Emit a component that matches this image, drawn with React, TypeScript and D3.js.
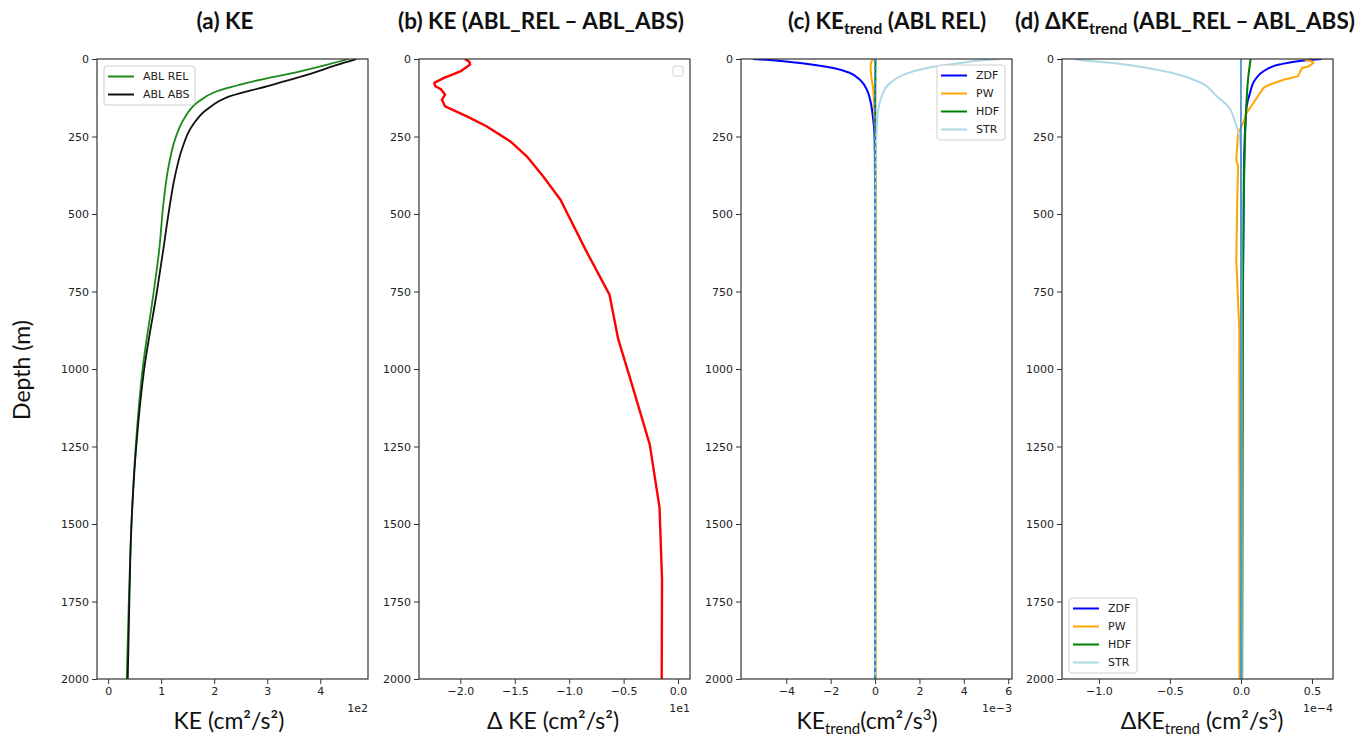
import * as React from 'react';
import * as d3 from 'd3';

// [depth (m), value]
type Pt = [number, number];

const depthTicks = [0, 250, 500, 750, 1000, 1250, 1500, 1750, 2000];

// (a) KE, cm2/s2
const keRel: Pt[] = [
  [0, 453], [20, 410], [40, 362], [72, 274], [104, 205], [142, 167], [196, 142], [260, 126],
  [346, 114], [454, 105], [620, 96], [750, 86], [1000, 65], [1250, 52], [1500, 44], [1750, 39], [2000, 35],
];
const keAbs: Pt[] = [
  [0, 468], [20, 430], [45, 387], [88, 299], [120, 230], [163, 186], [217, 158], [292, 139],
  [378, 126], [497, 114], [615, 104], [750, 92], [1000, 68], [1250, 53], [1500, 44], [1750, 40], [2000, 37],
];

// (b) KE difference, cm2/s2
const keDiff: Pt[] = [
  [0, -19.6], [8, -19.2], [18, -19.1], [40, -20.0], [61, -21.5], [77, -22.4], [88, -22.3], [97, -21.8],
  [115, -21.4], [131, -21.7], [153, -21.4], [185, -19.4], [217, -17.6], [266, -15.4], [314, -13.9],
  [378, -12.4], [454, -10.8], [615, -8.5], [760, -6.3], [903, -5.5], [1066, -4.1], [1243, -2.6],
  [1447, -1.7], [1679, -1.47], [2000, -1.5],
];

// (c) KE trends ABL REL, in 1e-3 cm2/s3
const zdfRel: Pt[] = [
  [0, -5.5], [4, -4.6], [13, -3.38], [29, -1.88], [45, -1.13], [67, -0.68], [99, -0.37], [142, -0.19],
  [185, -0.1], [239, -0.03], [300, -0.01], [500, 0], [2000, 0],
];
const pwRel: Pt[] = [
  [0, -0.1], [20, -0.2], [50, -0.18], [100, -0.08], [200, -0.02], [300, 0.03], [1000, 0.03], [2000, 0.03],
];
const hdfRel: Pt[] = [[0, 0.02], [100, 0.01], [2000, 0]];
const strRel: Pt[] = [
  [0, 5.6], [4, 4.8], [13, 3.83], [29, 2.33], [51, 1.28], [77, 0.68], [120, 0.3], [163, 0.15],
  [217, 0.08], [300, 0.03], [500, 0.01], [2000, 0.01],
];

// (d) KE trend differences, in 1e-4 cm2/s3
const zdfDiff: Pt[] = [
  [0, 0.568], [5, 0.44], [18, 0.27], [40, 0.157], [67, 0.099], [110, 0.063], [153, 0.04], [217, 0.03],
  [400, 0.02], [1000, 0.01], [2000, 0.008],
];
const pwDiff: Pt[] = [
  [0, 0.44], [8, 0.5], [13, 0.51], [24, 0.475], [29, 0.43], [56, 0.4], [67, 0.3], [83, 0.2], [94, 0.157],
  [110, 0.134], [142, 0.087], [174, 0.04], [201, 0.02], [239, -0.02], [303, -0.03], [325, -0.033],
  [346, -0.02], [454, -0.026], [647, -0.033], [870, -0.012], [2000, -0.01],
];
const hdfDiff: Pt[] = [[0, 0.068], [56, 0.052], [131, 0.04], [239, 0.03], [454, 0.02], [668, 0.014], [2000, 0.008]];
const strDiff: Pt[] = [
  [0, -1.17], [4, -1.12], [13, -0.9], [29, -0.66], [45, -0.48], [77, -0.28], [120, -0.17], [153, -0.09],
  [206, -0.04], [260, -0.007], [350, 0.003], [2000, 0.005],
];
const zeroLine: Pt[] = [[0, 0], [2000, 0]];

type Series = { data: Pt[]; color: string; width: number; label?: string; dash?: string; linear?: boolean };
type Panel = {
  x0: number; x1: number; domain: [number, number]; ticks: number[]; unit: number; dec: number;
  series: Series[]; legend?: { x: number; y: number; w: number }; emptyLegend?: boolean;
};

const TOP = 59;
const BOTTOM = 679;
const TICK_FONT = 'DejaVu Sans, sans-serif';
const LABEL_FONT = 'Lato, "Open Sans", sans-serif';

const ZDF = { color: '#0000ff', width: 2, label: 'ZDF' };
const PW = { color: '#ffa500', width: 2, label: 'PW' };
const HDF = { color: '#008000', width: 2, label: 'HDF' };
const STR = { color: '#add8e6', width: 2, label: 'STR' };

const panels: Panel[] = [
  {
    x0: 97, x1: 368, domain: [-21, 490], ticks: [0, 100, 200, 300, 400], unit: 100, dec: 0,
    series: [
      { data: keRel, color: '#1a8a1a', width: 1.8, label: 'ABL REL' },
      { data: keAbs, color: '#111111', width: 1.8, label: 'ABL ABS' },
    ],
    legend: { x: 104, y: 66, w: 91 },
  },
  {
    x0: 419, x1: 690, domain: [-23.8, 1.1], ticks: [-20, -15, -10, -5, 0], unit: 10, dec: 1,
    series: [{ data: keDiff, color: '#ff0000', width: 2.4, linear: true }],
    emptyLegend: true,
  },
  {
    x0: 741, x1: 1012, domain: [-6.04, 6.17], ticks: [-4, -2, 0, 2, 4, 6], unit: 1, dec: 0,
    series: [
      { data: zdfRel, ...ZDF },
      { data: pwRel, ...PW },
      { data: hdfRel, ...HDF },
      { data: strRel, ...STR },
      { data: zeroLine, color: '#3a86c8', width: 2, dash: '4,3' },
    ],
    legend: { x: 937, y: 65, w: 68 },
  },
  {
    x0: 1062, x1: 1333, domain: [-1.26, 0.648], ticks: [-1, -0.5, 0, 0.5], unit: 1, dec: 1,
    series: [
      { data: zdfDiff, ...ZDF },
      { data: pwDiff, ...PW, linear: true },
      { data: hdfDiff, ...HDF },
      { data: strDiff, ...STR },
      { data: zeroLine, color: '#3a86c8', width: 1.6 },
    ],
    legend: { x: 1069, y: 598, w: 68 },
  },
];

function fmt(v: number, unit: number, dec: number) {
  const s = (Math.abs(v) < 1e-12 ? 0 : v / unit).toFixed(dec);
  return s.replace('-', '\u2212');
}

function Charts() {
  const ref = React.useRef<SVGGElement | null>(null);

  React.useEffect(() => {
    if (!ref.current) return;
    const root = d3.select(ref.current);
    root.selectAll('*').remove();

    const y = d3.scaleLinear().domain([0, 2000]).range([TOP, BOTTOM]);

    panels.forEach((p, i) => {
      const x = d3.scaleLinear().domain(p.domain).range([p.x0, p.x1]);
      const g = root.append('g');

      const clipId = `clip-${i}`;
      g.append('clipPath').attr('id', clipId)
        .append('rect').attr('x', p.x0).attr('y', TOP).attr('width', p.x1 - p.x0).attr('height', BOTTOM - TOP);

      const plot = g.append('g').attr('clip-path', `url(#${clipId})`);
      p.series.forEach(s => {
        const line = d3.line<Pt>()
          .x(d => x(d[1]))
          .y(d => y(d[0]))
          .curve(s.linear ? d3.curveLinear : d3.curveMonotoneY);
        plot.append('path')
          .attr('fill', 'none')
          .attr('stroke', s.color)
          .attr('stroke-width', s.width)
          .attr('stroke-linejoin', 'round')
          .attr('stroke-dasharray', s.dash ?? null)
          .attr('d', line(s.data) || '');
      });

      // frame
      g.append('rect')
        .attr('x', p.x0).attr('y', TOP).attr('width', p.x1 - p.x0).attr('height', BOTTOM - TOP)
        .attr('fill', 'none').attr('stroke', '#333').attr('stroke-width', 1.2);

      const ax = d3.axisBottom(x).tickValues(p.ticks).tickSize(5).tickPadding(3)
        .tickFormat(v => fmt(v as number, p.unit, p.dec));
      const ay = d3.axisLeft(y).tickValues(depthTicks).tickSize(5).tickPadding(3)
        .tickFormat(v => String(v));
      const gx = g.append('g').attr('transform', `translate(0,${BOTTOM})`).call(ax as any);
      const gy = g.append('g').attr('transform', `translate(${p.x0},0)`).call(ay as any);
      [gx, gy].forEach(a => {
        a.select('.domain').remove();
        a.selectAll('line').attr('stroke', '#333');
        a.selectAll('text').attr('fill', '#222').style('font-family', TICK_FONT).style('font-size', '11px');
      });

      if (p.legend) {
        const items = p.series.filter(s => s.label);
        const L = p.legend;
        const lg = g.append('g');
        lg.append('rect')
          .attr('x', L.x).attr('y', L.y).attr('width', L.w).attr('height', items.length * 18 + 3)
          .attr('rx', 3).attr('fill', 'white').attr('fill-opacity', 0.8)
          .attr('stroke', '#d0d0d0');
        items.forEach((s, k) => {
          const cy = L.y + 10.5 + k * 18;
          lg.append('line')
            .attr('x1', L.x + 4).attr('x2', L.x + 30).attr('y1', cy).attr('y2', cy)
            .attr('stroke', s.color).attr('stroke-width', 2);
          lg.append('text')
            .attr('x', L.x + 39).attr('y', cy).attr('dy', '0.36em')
            .style('font-family', TICK_FONT).style('font-size', '11px').attr('fill', '#222')
            .text(s.label!);
        });
      }
      if (p.emptyLegend) {
        g.append('rect')
          .attr('x', p.x1 - 17).attr('y', TOP + 7).attr('width', 10).attr('height', 10)
          .attr('rx', 2).attr('fill', 'white').attr('stroke', '#d0d0d0');
      }
    });
  }, []);

  return <g ref={ref} />;
}

export default function App() {
  const title = { fontFamily: LABEL_FONT, fontWeight: 700, fontSize: 22.5, fill: '#111', textAnchor: 'middle' as const };
  const xlab = { fontFamily: LABEL_FONT, fontSize: 23, fill: '#111', textAnchor: 'middle' as const };
  const off = { fontFamily: TICK_FONT, fontSize: 11, fill: '#222', textAnchor: 'end' as const };
  return (
    <svg width={1362} height={736} viewBox="0 0 1362 736"
      style={{ position: 'absolute', left: 0, top: 0, background: 'white' }}>
      <rect width={1362} height={736} fill="white" />
      <text x={225} y={29} style={title}>(a) KE</text>
      <text x={541} y={29} style={title}>(b) KE (ABL_REL – ABL_ABS)</text>
      <text x={887} y={29} style={title}>
        (c) KE<tspan fontSize={16} dy={5}>trend</tspan><tspan dy={-5}> (ABL REL)</tspan>
      </text>
      <text x={1185} y={29} style={title}>
        (d) ΔKE<tspan fontSize={16} dy={5}>trend</tspan><tspan dy={-5}> (ABL_REL – ABL_ABS)</tspan>
      </text>

      <text transform="translate(30,370) rotate(-90)" style={{ ...xlab, fontSize: 23 }}>Depth (m)</text>

      <text x={229} y={729} style={xlab}>KE (cm²/s²)</text>
      <text x={553} y={729} style={xlab}>Δ KE (cm²/s²)</text>
      <text x={867} y={729} style={xlab}>
        KE<tspan fontSize={15} dy={5}>trend</tspan><tspan dy={-5}>(cm²/s</tspan><tspan fontSize={15} dy={-9}>3</tspan><tspan dy={9}>)</tspan>
      </text>
      <text x={1202} y={729} style={xlab}>
        ΔKE<tspan fontSize={15} dy={5}>trend</tspan><tspan dy={-5}> (cm²/s</tspan><tspan fontSize={15} dy={-9}>3</tspan><tspan dy={9}>)</tspan>
      </text>

      <text x={368} y={712} style={off}>1e2</text>
      <text x={690} y={712} style={off}>1e1</text>
      <text x={1012} y={712} style={off}>1e−3</text>
      <text x={1333} y={712} style={off}>1e−4</text>

      <Charts />
    </svg>
  );
}
